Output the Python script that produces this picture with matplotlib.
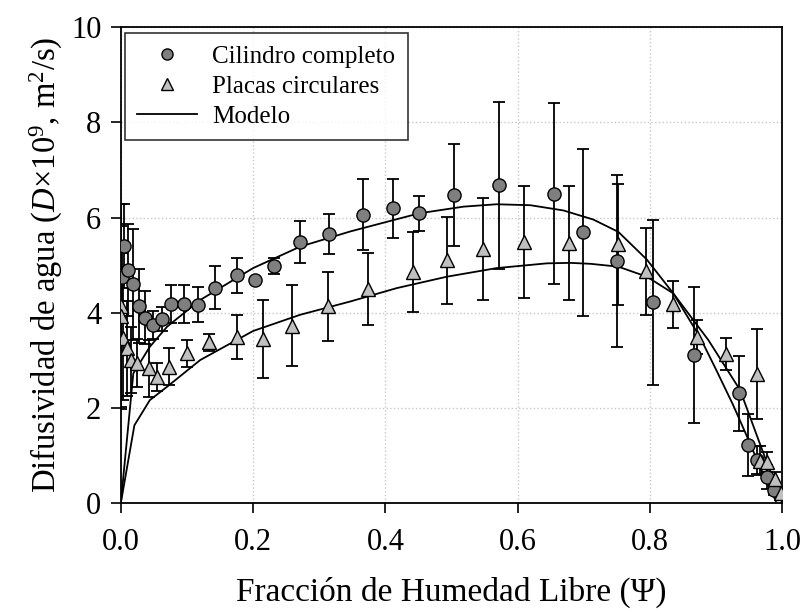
import matplotlib
matplotlib.use("Agg")
import matplotlib.pyplot as plt

# Cilindro completo: x, D, error
x_cil = [0.0025, 0.005, 0.0115, 0.018, 0.027, 0.036, 0.048, 0.062, 0.076, 0.096,
         0.116, 0.143, 0.176, 0.203, 0.231, 0.271, 0.314, 0.366, 0.411, 0.451,
         0.503, 0.571, 0.654, 0.699, 0.750, 0.804, 0.867, 0.935, 0.948, 0.961,
         0.976, 0.987]
y_cil = [4.75, 5.41, 4.90, 4.60, 4.14, 3.90, 3.75, 3.87, 4.18, 4.19,
         4.17, 4.53, 4.79, 4.68, 4.99, 5.48, 5.66, 6.06, 6.20, 6.09,
         6.48, 6.68, 6.50, 5.69, 5.09, 4.22, 3.11, 2.31, 1.22, 0.91,
         0.56, 0.28]
e_cil = [0.50, 0.88, 0.96, 1.16, 0.78, 0.55, 0.30, 0.25, 0.40, 0.40,
         0.37, 0.45, 0.37, 0.05, 0.17, 0.44, 0.42, 0.75, 0.62, 0.37,
         1.07, 1.75, 1.90, 1.75, 1.81, 1.73, 1.43, 0.78, 0.65, 0.30,
         0.25, 0.10]

# Placas circulares
x_pla = [0.0005, 0.0, 0.003, 0.009, 0.015, 0.025, 0.042, 0.055, 0.073, 0.100,
         0.133, 0.175, 0.215, 0.259, 0.313, 0.373, 0.442, 0.493, 0.548, 0.610,
         0.677, 0.752, 0.794, 0.834, 0.871, 0.915, 0.961, 0.966, 0.977, 0.989,
         0.998]
y_pla = [4.14, 3.93, 3.47, 3.26, 3.01, 2.95, 2.84, 2.66, 2.87, 3.15,
         3.38, 3.49, 3.45, 3.73, 4.14, 4.50, 4.86, 5.10, 5.35, 5.49,
         5.47, 5.44, 4.87, 4.18, 3.49, 3.14, 2.72, 0.90, 0.87, 0.52,
         0.21]
e_pla = [2.15, 1.90, 1.30, 1.00, 0.70, 0.50, 0.60, 0.29, 0.39, 0.28,
         0.17, 0.46, 0.82, 0.85, 0.72, 0.75, 0.84, 0.92, 1.07, 1.17,
         1.20, 1.27, 0.92, 0.49, 0.36, 0.33, 0.95, 0.30, 0.20, 0.15,
         0.10]

# Modelo (dos curvas)
x_mod_cil = [0, 0.019, 0.044, 0.07, 0.12, 0.2, 0.271, 0.347, 0.451, 0.518, 0.568,
             0.619, 0.669, 0.714, 0.752, 0.795, 0.835, 0.875, 0.9, 0.925, 0.946,
             0.965, 0.98, 0.99]
y_mod_cil = [0, 2.73, 3.29, 3.71, 4.27, 4.94, 5.39, 5.71, 6.09, 6.23, 6.28,
             6.26, 6.15, 5.96, 5.70, 5.12, 4.41, 3.50, 2.80, 2.08, 1.42,
             0.80, 0.35, 0.05]
x_mod_pla = [0, 0.0206, 0.044, 0.07, 0.12, 0.2, 0.271, 0.347, 0.417, 0.493, 0.568,
             0.644, 0.679, 0.71, 0.752, 0.795, 0.835, 0.888, 0.936, 0.949, 0.97,
             0.985, 1.0]
y_mod_pla = [0, 1.64, 2.17, 2.45, 3.01, 3.62, 3.96, 4.24, 4.52, 4.76, 4.94,
             5.04, 5.05, 5.03, 4.97, 4.76, 4.41, 3.43, 2.38, 1.89, 1.10,
             0.55, 0.0]

plt.rcParams['font.family'] = ['Liberation Serif', 'DejaVu Serif']
plt.rcParams['mathtext.fontset'] = 'custom'
plt.rcParams['mathtext.rm'] = 'Liberation Serif'
plt.rcParams['mathtext.it'] = 'Liberation Serif:italic'

fig = plt.figure(figsize=(8.05, 6.14), dpi=100)
ax = fig.add_axes([0.150, 0.180, 0.822, 0.776])

ax.grid(True, color="#c8c8c8", linestyle=":", linewidth=1.0)
ax.set_axisbelow(True)

# barras de error
ax.errorbar(x_cil, y_cil, yerr=e_cil, fmt="none", ecolor="black",
            elinewidth=1.3, capsize=4.5, capthick=1.3, zorder=2)
ax.errorbar(x_pla, y_pla, yerr=e_pla, fmt="none", ecolor="black",
            elinewidth=1.3, capsize=4.5, capthick=1.3, zorder=2)

# curvas del modelo
ax.plot(x_mod_cil, y_mod_cil, color="black", lw=1.3, zorder=3, label="Modelo")
ax.plot(x_mod_pla, y_mod_pla, color="black", lw=1.3, zorder=3)

# puntos
ax.plot(x_cil, y_cil, "o", ms=9.5, mfc="#7f7f7f", mec="black", mew=1.0,
        zorder=4, label="Cilindro completo")
ax.plot(x_pla, y_pla, "^", ms=9.5, mfc="#c0c0c0", mec="black", mew=1.0,
        zorder=4, label="Placas circulares")

ax.set_xlim(0, 1.0)
ax.set_ylim(0, 10)
ax.set_xticks([0.0, 0.2, 0.4, 0.6, 0.8, 1.0])
ax.set_xticklabels(["0.0", "0.2", "0.4", "0.6", "0.8", "1.0"])
ax.set_yticks([0, 2, 4, 6, 8, 10])
ax.tick_params(labelsize=22, direction="out", length=7, width=1.2)
ax.tick_params(axis="x", pad=11)
ax.tick_params(axis="y", pad=7)
for s in ax.spines.values():
    s.set_linewidth(1.3)

ax.set_xlabel("Fracción de Humedad Libre (Ψ)", fontsize=24, labelpad=14)
ax.set_ylabel("Difusividad de agua ($D$×10$^9$, m$^2$/s)", fontsize=23.5, labelpad=4)

h, l = ax.get_legend_handles_labels()
order = [1, 2, 0]
leg = ax.legend([h[i] for i in order], [l[i] for i in order],
                loc="upper left", bbox_to_anchor=(0.006, 0.988), borderaxespad=0,
                fontsize=18, frameon=True, fancybox=False, edgecolor="black",
                handlelength=2.4, labelspacing=0.3, borderpad=0.5,
                handletextpad=0.6)
leg.get_frame().set_linewidth(1.2)
for hd in leg.legend_handles[:2]:
    hd.set_markersize(8)

fig.savefig("out.png", dpi=100)
